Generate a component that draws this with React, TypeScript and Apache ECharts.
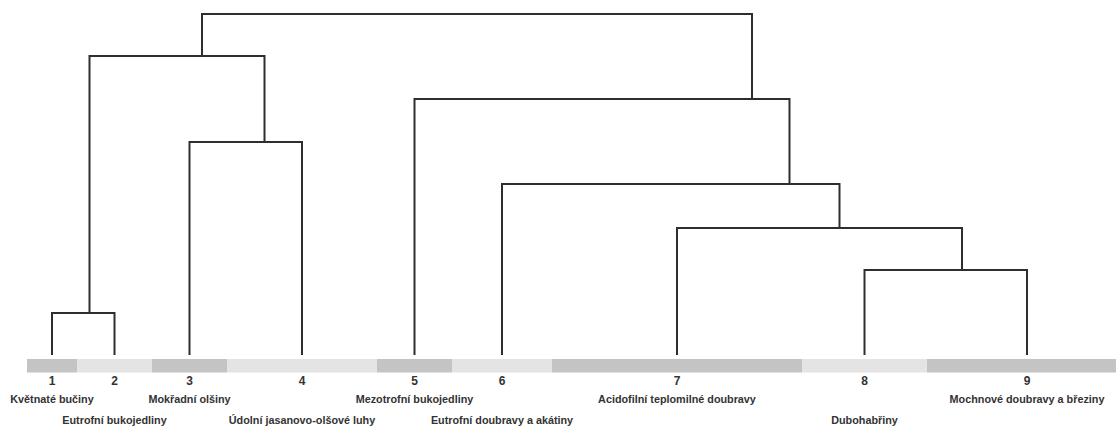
import React, { useEffect, useRef } from "react";
import * as echarts from "echarts";

// Leaves (clusters) in order along the bar
const leafIds = ["1", "2", "3", "4", "5", "6", "7", "8", "9"];
const leafNames = [
  "Květnaté bučiny",
  "Eutrofní bukojedliny",
  "Mokřadní olšiny",
  "Údolní jasanovo-olšové luhy",
  "Mezotrofní bukojedliny",
  "Eutrofní doubravy a akátiny",
  "Acidofilní teplomilné doubravy",
  "Dubohabřiny",
  "Mochnové doubravy a březiny",
];
// relative width of each cluster's band on the bar
const segmentWidths = [2, 3, 3, 6, 3, 4, 10, 5, 8];

// Merges of the dendrogram
const mergeIds = ["A", "B", "C", "D", "E", "F", "G", "H"];
const mergeLeft = ["1", "3", "A", "8", "7", "6", "5", "C"];
const mergeRight = ["2", "4", "B", "9", "D", "E", "F", "G"];
const mergeHeight = [4.2, 21.3, 29.9, 8.5, 12.7, 17.1, 25.6, 34.1];
const mergeX = [2.5, 9.5, 7.0, 37.4, 32.5, 30.5, 29.0, 18.0];

export default function App() {
  const ref = useRef<HTMLDivElement>(null);

  useEffect(() => {
    if (!ref.current) return;
    const chart = echarts.init(ref.current, null, { renderer: "svg" });

    // band data
    const starts: number[] = [];
    let acc = 0;
    segmentWidths.forEach((w) => {
      starts.push(acc);
      acc += w;
    });
    const bandData = leafIds.map((id, i) => [starts[i], starts[i] + segmentWidths[i], i]);

    // node positions
    const pos: Record<string, [number, number]> = {};
    leafIds.forEach((id, i) => {
      pos[id] = [starts[i] + segmentWidths[i] / 2, 0];
    });
    mergeIds.forEach((id, i) => {
      pos[id] = [mergeX[i], mergeHeight[i]];
    });
    const linkData = mergeIds.map((id, i) => {
      const l = pos[mergeLeft[i]];
      const r = pos[mergeRight[i]];
      return [l[0], l[1], r[0], r[1], mergeHeight[i]];
    });

    const textColor = "#333333";
    const font = "'Liberation Sans', Arial, sans-serif";

    chart.setOption({
      animation: false,
      backgroundColor: "#ffffff",
      grid: { left: 27, right: 0, top: 0, bottom: 51 },
      xAxis: {
        type: "value",
        min: 0,
        max: 43.56, // the last band runs past the right edge of the picture
        show: false,
      },
      yAxis: {
        type: "value",
        min: -2,
        max: 35.5,
        show: false,
      },
      series: [
        {
          type: "custom",
          clip: false,
          data: bandData,
          renderItem: (params: any, api: any) => {
            const i = api.value(2);
            const p0 = api.coord([api.value(0), 0]);
            const p1 = api.coord([api.value(1), 0]);
            const cx = (p0[0] + p1[0]) / 2;
            const y0 = p0[1];
            const row2 = i % 2 === 1;
            return {
              type: "group",
              children: [
                {
                  type: "rect",
                  shape: { x: p0[0], y: y0 + 4, width: p1[0] - p0[0], height: 13.5 },
                  style: { fill: i % 2 === 0 ? "#c4c4c4" : "#e4e4e4" },
                },
                {
                  type: "text",
                  x: cx,
                  y: y0 + 26,
                  style: {
                    text: leafIds[i],
                    fill: textColor,
                    font: `bold 12px ${font}`,
                    align: "center",
                    verticalAlign: "middle",
                  },
                },
                {
                  type: "text",
                  x: cx,
                  y: y0 + (row2 ? 65 : 44),
                  style: {
                    text: leafNames[i],
                    fill: textColor,
                    font: `bold 10.8px ${font}`,
                    align: "center",
                    verticalAlign: "middle",
                  },
                },
              ],
            };
          },
        },
        {
          type: "custom",
          clip: false,
          data: linkData,
          renderItem: (params: any, api: any) => {
            const a = api.coord([api.value(0), api.value(1)]);
            const b = api.coord([api.value(2), api.value(3)]);
            const h = api.coord([api.value(0), api.value(4)])[1];
            return {
              type: "polyline",
              shape: {
                points: [
                  [a[0], a[1]],
                  [a[0], h],
                  [b[0], h],
                  [b[0], b[1]],
                ],
              },
              style: { stroke: "#2e2e2e", lineWidth: 2, fill: null },
            };
          },
        },
      ],
    });

    return () => chart.dispose();
  }, []);

  return (
    <div
      ref={ref}
      style={{ position: "fixed", left: 0, top: 0, width: 1116, height: 426 }}
    />
  );
}
